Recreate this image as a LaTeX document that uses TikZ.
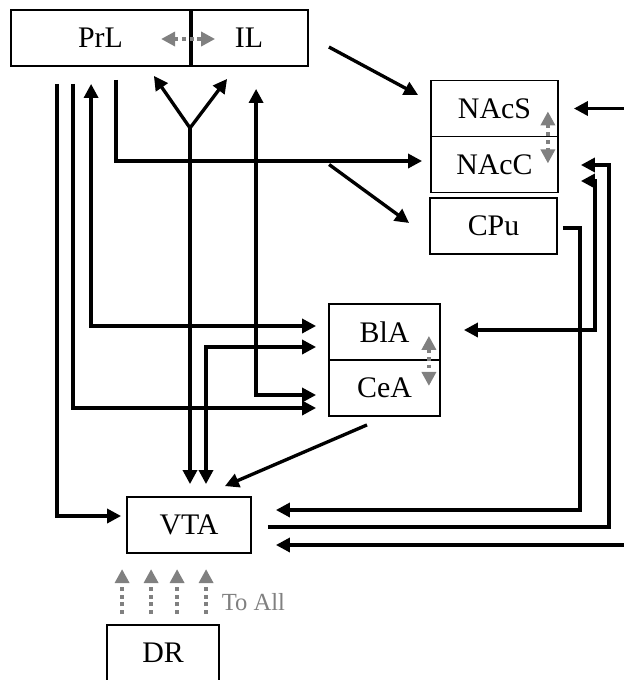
\documentclass[tikz,border=0pt]{standalone}
\usepackage{fontspec}
\setmainfont{Liberation Serif}
\usetikzlibrary{arrows.meta,calc}
\begin{document}
\begin{tikzpicture}[x=0.02cm,y=-0.02cm,line width=1.9pt,
  >={Triangle[length=0.28cm,width=0.28cm]},
  box/.style={draw,line width=1.05pt,minimum height=1.12cm,inner sep=0pt,
    font=\fontsize{17}{20}\selectfont},
  mod/.style={gray,line width=2pt,dash pattern=on 2.2pt off 2.2pt}]
  \useasboundingbox (0,0) rectangle (623,680);

  % 脑区
  \node[box,minimum width=3.58cm] (PrL) at (100.5,38) {PrL};
  \node[box,minimum width=2.36cm] (IL) at (249,38) {IL};
  \node[box,minimum width=2.54cm] (NAcS) at (494.5,108.5) {NAcS};
  \node[box,minimum width=2.54cm] (NAcC) at (494.5,164.5) {NAcC};
  \node[box,minimum width=2.54cm] (CPu) at (493.5,226) {CPu};
  \node[box,minimum width=2.22cm] (BlA) at (384.5,332) {BlA};
  \node[box,minimum width=2.22cm] (CeA) at (384.5,388) {CeA};
  \node[box,minimum width=2.48cm] (VTA) at (189,525) {VTA};
  \node[box,minimum width=2.24cm] (DR) at (163,653) {DR};
  \draw (PrL.north east) -- (PrL.south east);

  \coordinate (fan) at (190,128);
  \coordinate (fork) at ($(NAcC.west)+(-101,0)$);
  \coordinate (inS) at (625,108.5);
  \coordinate (inV) at (625,545);

  % 前额叶投射
  \draw[->] ($(PrL.south west)+(47,17)$) |- ($(VTA.west)+(-5,-9)$);
  \draw[->] ($(PrL.south west)+(63,17)$) |- ($(CeA.west)+(-12,20)$);
  \draw[<->] ($(PrL.south west)+(81,17)$) |- ($(BlA.west)+(-12,-6)$);
  \draw[->] ($(PrL.south west)+(106,13)$) |- ($(NAcC.west)+(-8,-3.5)$);
  \draw[->] (fork) -- ($(CPu.west)+(-20,-3)$);
  \draw[->] ($(IL.east)+(20,9)$) -- ($(NAcS.west)+(-12,-13.5)$);
  \draw[<->] ($(PrL.south east)+(-37,9)$) -- (fan) -- ($(IL.south west)+(38,12)$);
  \draw[->] (fan) -- ($(VTA.north)+(1,-12)$);
  \draw[<->] ($(IL.south west)+(67,22)$) |- ($(CeA.west)+(-12,7)$);

  % 杏仁核与VTA
  \draw[<->] ($(VTA.north)+(17,-12)$) |- ($(BlA.west)+(-12,15)$);
  \draw[->] ($(CeA.south)+(-17.5,8)$) -- ($(VTA.north east)+(-27,-10)$);

  % 右侧回路
  \draw[->] ($(CPu.east)+(5,2)$) -- ++(17,0) |- ($(VTA.east)+(24,-15)$);
  \draw[->] ($(VTA.east)+(16,2)$) -- ++(341,0) |- ($(NAcC.east)+(22,0.5)$);
  \draw[<->] ($(BlA.east)+(23,-2)$) -- ++(131,0) |- ($(NAcC.east)+(22,16.5)$);
  \draw[->] (inS) -- ($(NAcS.east)+(15,0)$);
  \draw[->] (inV) -- ($(VTA.east)+(24,20)$);

  % 灰色虚线
  \draw[mod,<->] ($(IL.west)+(-28,1)$) -- ($(IL.west)+(26,1)$);
  \draw[mod,<->] ($(NAcS.south east)+(-11,-26)$) -- ($(NAcS.south east)+(-11,26)$);
  \draw[mod,<->] ($(BlA.south east)+(-12,-25)$) -- ($(BlA.south east)+(-12,25)$);
  \foreach \dx in {16,45,71,100}
    \draw[mod,->] ($(DR.north west)+(\dx,-10)$) -- ($(DR.north west)+(\dx,-55)$);
  \node[gray,anchor=west,inner sep=0pt,font=\fontsize{14}{16}\selectfont] (toall)
    at ($(DR.north west)+(114,-22)$) {To All};
\end{tikzpicture}
\end{document}
